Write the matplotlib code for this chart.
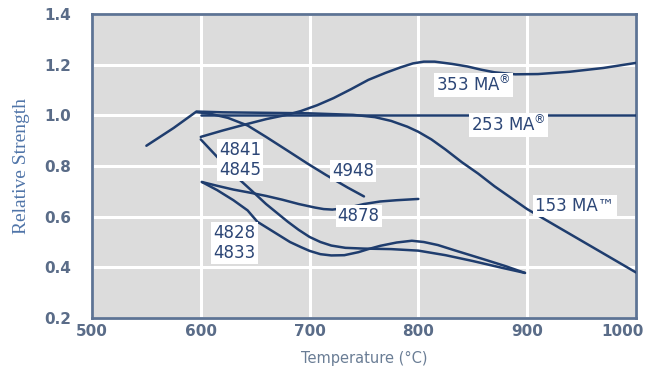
import matplotlib
matplotlib.use('Agg')
import matplotlib.pyplot as plt
import matplotlib.transforms as mtransforms

# values
x_153 = [550, 575, 596, 620, 660, 700, 740, 760, 775, 790, 800, 812, 825, 840, 855, 870, 885, 900, 950, 1000]
y_153 = [0.88, 0.95, 1.015, 1.012, 1.01, 1.008, 1.002, 0.993, 0.978, 0.955, 0.935, 0.905, 0.865, 0.815, 0.77, 0.72, 0.675, 0.63, 0.505, 0.38]

x_253 = [600, 700, 800, 900, 1000]
y_253 = [1.0, 1.0, 1.0, 1.0, 1.0]

x_353 = [600, 620, 640, 660, 680, 692, 707, 722, 738, 754, 770, 784, 795, 805, 815, 831, 845,
         858, 870, 889, 910, 939, 970, 1000]
y_353 = [0.915, 0.94, 0.963, 0.985, 1.003, 1.017, 1.04, 1.068, 1.103, 1.14, 1.168, 1.19, 1.205,
         1.212, 1.212, 1.203, 1.193, 1.18, 1.17, 1.162, 1.163, 1.172, 1.187, 1.207]

x_4948 = [596, 610, 625, 643, 660, 680, 698, 715, 735, 750]
y_4948 = [1.013, 1.005, 0.99, 0.96, 0.915, 0.86, 0.81, 0.765, 0.715, 0.68]

x_4878 = [601, 615, 630, 645, 660, 675, 690, 705, 713, 721, 735, 750, 765, 780, 800]
y_4878 = [0.737, 0.722, 0.707, 0.695, 0.682, 0.667, 0.65, 0.636, 0.63, 0.628, 0.635, 0.65, 0.66, 0.665, 0.67]

x_4845 = [600, 612, 624, 636, 650, 660, 670, 680, 690, 700, 710, 720, 733, 750, 775, 800, 825, 850, 875, 898]
y_4845 = [0.905, 0.85, 0.795, 0.745, 0.69, 0.65, 0.615, 0.58, 0.548, 0.52, 0.5, 0.486, 0.477, 0.474,
          0.472, 0.466, 0.448, 0.425, 0.4, 0.378]

x_4833 = [601, 615, 630, 643, 652, 667, 682, 692, 700, 710, 720, 732, 745, 754, 765, 780, 794,
          805, 818, 835, 860, 880, 898]
y_4833 = [0.737, 0.705, 0.665, 0.625, 0.58, 0.54, 0.50, 0.48, 0.465, 0.452, 0.447, 0.448, 0.46,
          0.472, 0.485, 0.498, 0.505, 0.5, 0.488, 0.465, 0.432, 0.405, 0.378]

labels = ['353 MA$^{®}$', '253 MA$^{®}$', '153 MA™', '4948', '4878', '4841\n4845', '4828\n4833']
label_x = [851, 883, 944, 740, 745, 636, 631]
label_y = [1.12, 0.962, 0.642, 0.78, 0.603, 0.824, 0.496]

x_ticks = [500, 600, 700, 800, 900, 1000]
y_ticks = [0.2, 0.4, 0.6, 0.8, 1.0, 1.2, 1.4]

line_col = '#1f3d6e'
text_col = '#2c4676'
tick_col = '#5a6c88'

fig = plt.figure(figsize=(6.46, 3.70), dpi=100)
ax = fig.add_axes([0.1424, 0.1405, 0.842, 0.8216])
ax.set_facecolor('#dcdcdc')

for xs, ys in [(x_153, y_153), (x_253, y_253), (x_353, y_353), (x_4948, y_4948),
               (x_4878, y_4878), (x_4845, y_4845), (x_4833, y_4833)]:
    ax.plot(xs, ys, color=line_col, lw=1.8, solid_capstyle='round',
            solid_joinstyle='round', zorder=3)

for s, lx, ly in zip(labels, label_x, label_y):
    ax.text(lx, ly, s, ha='center', va='center', fontsize=12, color=text_col,
            linespacing=1.1, zorder=5,
            bbox=dict(boxstyle='square,pad=0.12', fc='white', ec='none'))

ax.set_xlim(500, 1000)
ax.set_ylim(0.2, 1.4)
ax.set_xticks(x_ticks)
ax.set_yticks(y_ticks)
ax.set_yticklabels(['%.1f' % v for v in y_ticks])
ax.grid(True, color='white', lw=2.2, zorder=1)
ax.set_axisbelow(True)
ax.tick_params(length=0, colors=tick_col, labelsize=11)
ax.tick_params(axis='y', pad=15)
ax.tick_params(axis='x', pad=4)
for lab in ax.get_xticklabels() + ax.get_yticklabels():
    lab.set_fontweight('bold')
# nudge the last x label so it stays inside the figure
last = ax.get_xticklabels()[-1]
last.set_transform(last.get_transform() +
                   mtransforms.ScaledTranslation(-13 / 100, 0, fig.dpi_scale_trans))
for sp in ax.spines.values():
    sp.set_color('#5d7394')
    sp.set_linewidth(2)

ax.set_xlabel('Temperature (°C)', fontsize=10.5, color='#6a7d95', labelpad=9)
ax.set_ylabel('Relative Strength', fontsize=14, color='#4f74a8',
              family='Liberation Serif', labelpad=10)

plt.savefig('out.png', dpi=100)
